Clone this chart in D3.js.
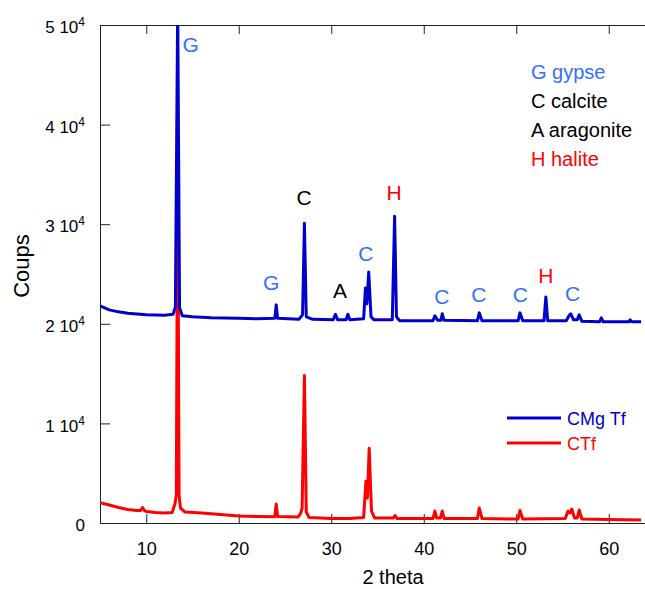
<!DOCTYPE html>
<html>
<head>
<meta charset="utf-8">
<script src="https://cdn.jsdelivr.net/npm/d3@7"></script>
<style>
  body { margin: 0; background: #fff; }
  svg { font-family: "Liberation Sans", Arial, sans-serif; }
  .axis path, .axis line { stroke: #222; }
</style>
</head>
<body>
<div id="chart"></div>
<script>
// CMg Tf pattern, shifted up by 2 10^4 in the original plot
let blueTheta = [5, 6, 7, 8, 10, 12, 12.9, 13.15, 13.4, 13.6, 13.9, 15, 17, 20, 22, 23.9, 24.05, 24.2,
  26.5, 26.9, 27.1, 27.3, 28, 30.2, 30.45, 30.7, 31.6, 31.8, 32.0, 33.5, 33.7, 33.85, 34.05, 34.3, 34.6,
  36.6, 36.85, 37.05, 37.4, 41.0, 41.2, 41.5, 41.85, 42.0, 42.2, 45.8, 46.0, 46.3, 50.2, 50.4, 50.7,
  53.0, 53.2, 53.4, 55.4, 55.7, 55.9, 56.2, 56.6, 56.8, 57.1, 59.0, 59.2, 59.4, 62.2, 62.3, 62.5, 63.5];
let blueCounts = [21800, 21400, 21200, 21050, 20900, 20850, 20950, 21700, 52000, 21600, 20800, 20700, 20600, 20550, 20500, 20550, 21900, 20550,
  20450, 20900, 30100, 20700, 20450, 20400, 20950, 20400, 20400, 20950, 20400, 20500, 23600, 22000, 25200, 20700, 20400,
  20400, 30800, 20700, 20300, 20300, 20800, 20350, 20350, 21000, 20350, 20300, 21100, 20300, 20300, 21100, 20300,
  20300, 22700, 20300, 20300, 20800, 21000, 20400, 20400, 20900, 20250, 20200, 20600, 20200, 20200, 20400, 20200, 20200];

// CTf pattern
let redTheta = [5, 6, 7, 8, 9, 9.4, 9.6, 9.8, 10, 11, 12, 12.8, 13.1, 13.25, 13.4, 13.55, 13.7, 14.2, 16, 18, 20, 22,
  23.9, 24.05, 24.2, 26.4, 26.7, 26.85, 27.1, 27.3, 27.6, 30, 32, 33.5, 33.75, 33.9, 34.1, 34.35, 34.7,
  36.7, 36.9, 37.1, 41.0, 41.2, 41.4, 41.8, 42.0, 42.2, 45.8, 46.0, 46.3, 50.2, 50.4, 50.7,
  55.3, 55.6, 55.8, 56.0, 56.3, 56.6, 56.8, 57.1, 60, 63.5];
let redCounts = [2050, 1800, 1550, 1350, 1250, 1250, 1550, 1250, 1150, 1050, 1000, 1050, 1900, 2800, 37000, 2800, 1500, 1100, 1000, 850, 700, 650,
  620, 1900, 650, 600, 1000, 1500, 14800, 1100, 550, 450, 450, 550, 4200, 2500, 7500, 1200, 500,
  500, 750, 450, 450, 1200, 500, 500, 1200, 450, 450, 1500, 450, 400, 1250, 400,
  450, 1200, 1000, 1400, 500, 500, 1300, 400, 350, 300];

// peak letters
let peakText = ["G", "G", "C", "A", "C", "H", "C", "C", "C", "H", "C"];
let peakTheta = [14.8, 23.5, 27.05, 30.95, 33.75, 36.8, 41.95, 45.95, 50.45, 53.2, 56.1];
let peakCounts = [47300, 23400, 31900, 22600, 26300, 32400, 22000, 22200, 22200, 24100, 22300];
let peakColor = ["#3370ff", "#3370ff", "#000", "#000", "#3370ff", "#ff0000", "#3370ff", "#3370ff", "#3370ff", "#ff0000", "#3370ff"];

let keyText = ["G gypse", "C calcite", "A aragonite", "H halite"];
let keyColor = ["#3370ff", "#000", "#000", "#ff0000"];

let seriesNames = ["CMg Tf", "CTf"];
let seriesColors = ["#0000cc", "#ff0000"];

let xTicks = [10, 20, 30, 40, 50, 60];
let yTicks = [0, 10000, 20000, 30000, 40000, 50000];

let dim = { width: 645, height: 589, left: 100, top: 25, bottom: 523, right: 655 };

let x = d3.scaleLinear().domain([5, 65]).range([dim.left, dim.right]);
let y = d3.scaleLinear().domain([0, 50000]).range([dim.bottom, dim.top]);

let svg = d3.select("#chart").append("svg")
    .attr("width", dim.width)
    .attr("height", dim.height);

svg.append("defs").append("clipPath")
    .attr("id", "plotClip")
  .append("rect")
    .attr("x", dim.left)
    .attr("y", dim.top)
    .attr("width", dim.right - dim.left)
    .attr("height", dim.bottom - dim.top);

// axes, ticks pointing inward
let xAxis = d3.axisBottom(x).tickValues(xTicks).tickSizeInner(-9).tickSizeOuter(0).tickPadding(19);
let gx = svg.append("g")
    .attr("class", "axis")
    .attr("transform", "translate(0," + dim.bottom + ")")
    .call(xAxis);
gx.selectAll("text").attr("font-size", 18).attr("fill", "#000");

svg.append("g")
    .attr("class", "axis")
    .attr("transform", "translate(0," + dim.top + ")")
    .call(d3.axisTop(x).tickValues(xTicks).tickSizeInner(-9).tickSizeOuter(0).tickFormat(""));

let yAxis = d3.axisLeft(y).tickValues(yTicks).tickSizeInner(-10).tickSizeOuter(0).tickPadding(15);
let gy = svg.append("g")
    .attr("class", "axis")
    .attr("transform", "translate(" + dim.left + ",0)")
    .call(yAxis);

gy.selectAll(".tick text")
    .attr("font-size", 17)
    .attr("fill", "#000")
    .attr("dy", "0.45em")
    .each(function(d) {
        let t = d3.select(this).text(null);
        if (d === 0) { t.text("0"); return; }
        t.append("tspan").text((d / 10000) + " 10");
        t.append("tspan").attr("dy", -7).attr("font-size", 12).text("4");
    });

svg.append("text")
    .attr("transform", "translate(29,266) rotate(-90)")
    .attr("text-anchor", "middle")
    .attr("font-size", 22)
    .text("Coups");

svg.append("text")
    .attr("x", 393)
    .attr("y", 584)
    .attr("text-anchor", "middle")
    .attr("font-size", 20)
    .text("2 theta");

// patterns
let line = d3.line()
    .x(function(d) { return x(d[0]); })
    .y(function(d) { return y(d[1]); });

let plot = svg.append("g").attr("clip-path", "url(#plotClip)");

plot.append("path")
    .datum(d3.zip(redTheta, redCounts))
    .attr("fill", "none")
    .attr("stroke", seriesColors[1])
    .attr("stroke-width", 3)
    .attr("stroke-linejoin", "round")
    .attr("d", line);

plot.append("path")
    .datum(d3.zip(blueTheta, blueCounts))
    .attr("fill", "none")
    .attr("stroke", seriesColors[0])
    .attr("stroke-width", 3)
    .attr("stroke-linejoin", "round")
    .attr("d", line);

// peak labels
svg.append("g").selectAll("text")
    .data(peakText)
  .enter().append("text")
    .attr("x", function(d, i) { return x(peakTheta[i]); })
    .attr("y", function(d, i) { return y(peakCounts[i]); })
    .attr("text-anchor", "middle")
    .attr("font-size", 21)
    .attr("fill", function(d, i) { return peakColor[i]; })
    .text(function(d) { return d; });

// phase key
svg.append("g").selectAll("text")
    .data(keyText)
  .enter().append("text")
    .attr("x", 531)
    .attr("y", function(d, i) { return 79 + i * 29; })
    .attr("font-size", 20)
    .attr("fill", function(d, i) { return keyColor[i]; })
    .text(function(d) { return d; });

// series legend
let legend = svg.append("g").selectAll("g")
    .data(seriesNames)
  .enter().append("g")
    .attr("transform", function(d, i) { return "translate(0," + (418 + i * 25) + ")"; });

legend.append("line")
    .attr("x1", 507).attr("x2", 561)
    .attr("stroke", function(d, i) { return seriesColors[i]; })
    .attr("stroke-width", 3);

legend.append("text")
    .attr("x", 567)
    .attr("y", 7)
    .attr("font-size", 18)
    .attr("fill", function(d, i) { return seriesColors[i]; })
    .text(function(d) { return d; });
</script>
</body>
</html>
